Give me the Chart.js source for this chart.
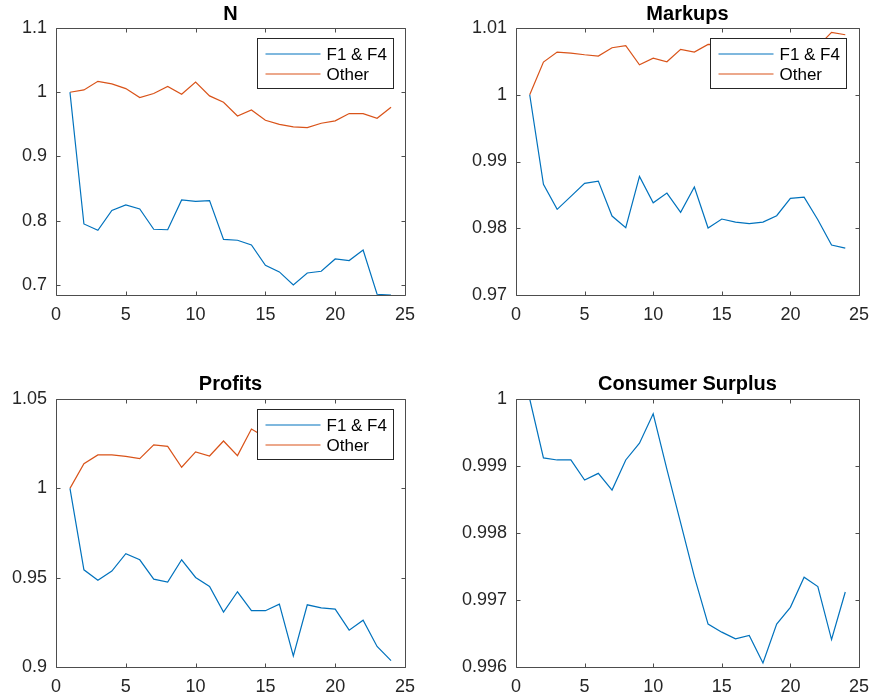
<!DOCTYPE html>
<html>
<head>
<meta charset="utf-8">
<title>Relative changes</title>
<script src="https://cdn.jsdelivr.net/npm/chart.js@4"></script>
<style>
  html, body { margin: 0; padding: 0; background: #fff; }
  #fig { position: relative; width: 878px; height: 700px; overflow: hidden; background: #fff; }
  #fig canvas { position: absolute; }
</style>
</head>
<body>
<div id="fig">
  <canvas id="cN" width="439" height="350" style="left:0px;top:0px;width:439px;height:350px"></canvas>
  <canvas id="cMarkups" width="439" height="350" style="left:439px;top:0px;width:439px;height:350px"></canvas>
  <canvas id="cProfits" width="439" height="350" style="left:0px;top:350px;width:439px;height:350px"></canvas>
  <canvas id="cCS" width="439" height="350" style="left:439px;top:350px;width:439px;height:350px"></canvas>
</div>
<script>
// Periods on the horizontal axis
const periods = [1,2,3,4,5,6,7,8,9,10,11,12,13,14,15,16,17,18,19,20,21,22,23,24];

// Number of products
const nF1F4  = [1.0000,0.7950,0.7850,0.8160,0.8246,0.8184,0.7867,0.7860,0.8324,0.8300,0.8313,0.7710,
                0.7696,0.7623,0.7307,0.7203,0.7000,0.7187,0.7213,0.7405,0.7380,0.7545,0.6855,0.6844];
const nOther = [1.0000,1.0036,1.0170,1.0130,1.0057,0.9917,0.9980,1.0090,0.9970,1.0160,0.9943,0.9844,
                0.9630,0.9725,0.9564,0.9500,0.9460,0.9450,0.9517,0.9554,0.9668,0.9668,0.9595,0.9766];

// Markups
const markF1F4  = [1.00000,0.98657,0.98283,0.98477,0.98672,0.98707,0.98183,0.98008,0.98777,0.98382,0.98527,0.98238,
                   0.98617,0.98003,0.98138,0.98093,0.98068,0.98093,0.98188,0.98447,0.98467,0.98128,0.97748,0.97703];
const markOther = [1.00000,1.00489,1.00639,1.00624,1.00599,1.00579,1.00704,1.00734,1.00449,1.00549,1.00494,1.00679,
                   1.00639,1.00754,1.00750,1.00720,1.00780,1.00740,1.00800,1.00770,1.00740,1.00724,1.00934,1.00899];

// Profits
const profF1F4  = [1.0000,0.9544,0.9486,0.9537,0.9634,0.9600,0.9492,0.9475,0.9600,0.9501,0.9451,0.9307,
                   0.9421,0.9315,0.9315,0.9352,0.9062,0.9348,0.9331,0.9324,0.9206,0.9262,0.9115,0.9036];
const profOther = [1.0000,1.0138,1.0187,1.0187,1.0179,1.0166,1.0243,1.0235,1.0118,1.0204,1.0181,1.0265,
                   1.0183,1.0332,1.0286,1.0310,1.0285,1.0330,1.0320,1.0345,1.0330,1.0360,1.0350,1.0370];

// Consumer surplus
const csValues = [1.00000,0.99912,0.99909,0.99909,0.99879,0.99889,0.99864,0.99909,0.99934,0.99978,0.99895,0.99815,
                  0.99735,0.99664,0.99652,0.99642,0.99647,0.99606,0.99664,0.99689,0.99734,0.99720,0.99641,0.99712];

// Tick values
const xTicks        = [0,5,10,15,20,25];
const yTicksN       = [0.7,0.8,0.9,1,1.1];
const yTicksMarkups = [0.97,0.98,0.99,1,1.01];
const yTicksProfits = [0.9,0.95,1,1.05];
const yTicksCS      = [0.996,0.997,0.998,0.999,1];

const BLUE = '#0072BD';
const ORANGE = '#D95319';
const AXIS = '#4d4d4d';
const TEXT = '#262626';
const FONT = "'Liberation Sans', Arial, Helvetica, sans-serif";

Chart.defaults.font.family = FONT;
Chart.defaults.color = TEXT;

const toPoints = vals => periods.map((p, i) => ({ x: p, y: vals[i] }));
const fmt = v => String(+Number(v).toFixed(6));

// Box around the axes with inward tick marks on all four sides
const framePlugin = {
  id: 'frame',
  afterDatasetsDraw(chart) {
    const { ctx, chartArea: a, scales: { x, y } } = chart;
    const L = Math.round(a.left) + 0.5, R = Math.round(a.right) + 0.5;
    const T = Math.round(a.top) + 0.5, B = Math.round(a.bottom) + 0.5;
    const len = 4;
    ctx.save();
    ctx.strokeStyle = AXIS;
    ctx.lineWidth = 1;
    ctx.beginPath();
    ctx.rect(L, T, R - L, B - T);
    x.ticks.forEach(t => {
      const px = Math.round(x.getPixelForValue(t.value)) + 0.5;
      ctx.moveTo(px, B); ctx.lineTo(px, B - len);
      ctx.moveTo(px, T); ctx.lineTo(px, T + len);
    });
    y.ticks.forEach(t => {
      const py = Math.round(y.getPixelForValue(t.value)) + 0.5;
      ctx.moveTo(L, py); ctx.lineTo(L + len, py);
      ctx.moveTo(R, py); ctx.lineTo(R - len, py);
    });
    ctx.stroke();
    ctx.restore();
  }
};

// Opaque legend box in the upper right corner of the axes
const boxLegendPlugin = {
  id: 'boxLegend',
  afterDraw(chart) {
    const opts = chart.options.plugins.boxLegend;
    if (!opts || !opts.show) return;
    const { ctx, chartArea: a } = chart;
    const w = 136, h = 50;
    const bx = Math.floor(a.right - 12 - w) + 0.5;
    const by = Math.floor(a.top + 10) + 0.5;
    ctx.save();
    ctx.fillStyle = '#fff';
    ctx.fillRect(bx, by, w, h);
    ctx.strokeStyle = '#262626';
    ctx.lineWidth = 1;
    ctx.strokeRect(bx, by, w, h);
    ctx.font = '17px ' + FONT;
    ctx.textBaseline = 'middle';
    ctx.textAlign = 'left';
    chart.data.datasets.forEach((ds, i) => {
      const yy = by + 15.5 + i * 20;
      ctx.strokeStyle = ds.borderColor;
      ctx.lineWidth = 1.2;
      ctx.beginPath();
      ctx.moveTo(bx + 8, yy);
      ctx.lineTo(bx + 63, yy);
      ctx.stroke();
      ctx.fillStyle = '#000';
      ctx.fillText(ds.label, bx + 69, yy + 1);
    });
    ctx.restore();
  }
};

function makePanel(id, title, series, yMin, yMax, yTicks, axisLeft, axisRight, topRow, showLegend) {
  const canvas = document.getElementById(id);
  return new Chart(canvas, {
    type: 'line',
    data: {
      datasets: series.map(s => ({
        label: s.label,
        data: toPoints(s.values),
        borderColor: s.color,
        backgroundColor: s.color,
        borderWidth: 1.2,
        pointRadius: 0,
        pointHoverRadius: 0,
        tension: 0,
        fill: false
      }))
    },
    options: {
      responsive: false,
      animation: false,
      devicePixelRatio: 1,
      events: [],
      layout: {
        padding: { left: 0, right: 439 - axisRight, top: 0, bottom: topRow ? 23 : 1 }
      },
      plugins: {
        legend: { display: false },
        tooltip: { enabled: false },
        title: {
          display: true,
          text: title,
          fullSize: false,
          color: '#000',
          font: { size: 20, weight: 'bold', family: FONT, lineHeight: 1.2 },
          padding: topRow ? { top: 2, bottom: 2 } : { top: 22, bottom: 3 }
        },
        boxLegend: { show: showLegend }
      },
      scales: {
        x: {
          type: 'linear',
          min: 0,
          max: 25,
          grid: { display: false, drawTicks: false },
          border: { display: false },
          ticks: {
            stepSize: 5,
            autoSkip: false,
            maxRotation: 0,
            padding: 9,
            color: TEXT,
            font: { size: 18, family: FONT },
            callback: v => fmt(v)
          },
          afterBuildTicks: s => { s.ticks = xTicks.map(v => ({ value: v })); },
          afterFit: s => { s.height = 32; }
        },
        y: {
          type: 'linear',
          min: yMin,
          max: yMax,
          grid: { display: false, drawTicks: false },
          border: { display: false },
          ticks: {
            padding: 9,
            color: TEXT,
            font: { size: 18, family: FONT },
            callback: v => fmt(v)
          },
          afterBuildTicks: s => { s.ticks = yTicks.map(v => ({ value: v })); },
          afterFit: s => { s.width = axisLeft; }
        }
      }
    },
    plugins: [framePlugin, boxLegendPlugin]
  });
}

makePanel('cN', 'N',
  [{ label: 'F1 & F4', values: nF1F4, color: BLUE }, { label: 'Other', values: nOther, color: ORANGE }],
  0.6844, 1.1, yTicksN, 56, 405, true, true);

makePanel('cMarkups', 'Markups',
  [{ label: 'F1 & F4', values: markF1F4, color: BLUE }, { label: 'Other', values: markOther, color: ORANGE }],
  0.97, 1.01, yTicksMarkups, 77, 427, true, true);

makePanel('cProfits', 'Profits',
  [{ label: 'F1 & F4', values: profF1F4, color: BLUE }, { label: 'Other', values: profOther, color: ORANGE }],
  0.9, 1.05, yTicksProfits, 56, 405, false, true);

makePanel('cCS', 'Consumer Surplus',
  [{ label: 'Consumer Surplus', values: csValues, color: BLUE }],
  0.996, 1.0, yTicksCS, 77, 427, false, false);
</script>
</body>
</html>
